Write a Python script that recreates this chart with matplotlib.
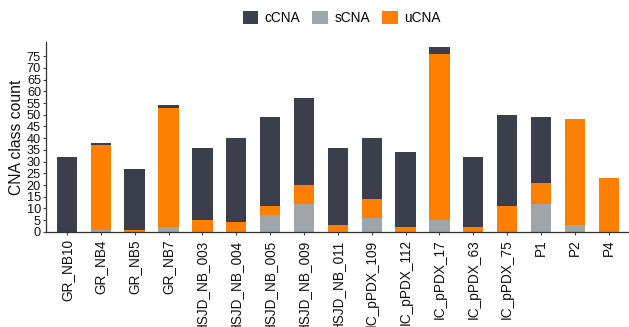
import matplotlib.pyplot as plt
import numpy as np

samples = ['GR_NB10', 'GR_NB4', 'GR_NB5', 'GR_NB7', 'HSJD_NB_003', 'HSJD_NB_004',
           'HSJD_NB_005', 'HSJD_NB_009', 'HSJD_NB_011', 'IC_pPDX_109', 'IC_pPDX_112',
           'IC_pPDX_17', 'IC_pPDX_63', 'IC_pPDX_75', 'P1', 'P2', 'P4']
sCNA = [0, 1, 0, 2, 0, 0, 7, 12, 0, 6, 0, 5, 0, 0, 12, 3, 0]
uCNA = [0, 36, 1, 51, 5, 4, 4, 8, 3, 8, 2, 71, 2, 11, 9, 45, 23]
cCNA = [32, 1, 26, 1, 31, 36, 38, 37, 33, 26, 32, 3, 30, 39, 28, 0, 0]

colors = {'cCNA': '#3b3e4b', 'sCNA': '#a0a5a9', 'uCNA': '#ff7f00'}

plt.rcParams['font.family'] = ['Liberation Sans', 'DejaVu Sans']

fig = plt.figure(figsize=(6.29, 3.27), dpi=100)
ax = fig.add_axes([0.073, 0.291, 0.925, 0.58])

x = np.arange(len(samples))
s = np.array(sCNA)
u = np.array(uCNA)
c = np.array(cCNA)
w = 0.6
ax.bar(x, s, w, color=colors['sCNA'], label='sCNA')
ax.bar(x, u, w, bottom=s, color=colors['uCNA'], label='uCNA')
ax.bar(x, c, w, bottom=s + u, color=colors['cCNA'], label='cCNA')

ax.set_xlim(-0.62, len(samples) - 0.44)
ax.set_ylim(0, 81)
ax.set_yticks(np.arange(0, 80, 5))
ax.set_xticks(x)
ax.set_xticklabels(samples, rotation=90, fontsize=9.8)
ax.tick_params(axis='y', labelsize=9.2, length=2.5, width=0.8, pad=1,
               color='#444444', labelcolor='#111111')
ax.tick_params(axis='x', length=2.5, width=0.8, pad=3,
               color='#444444', labelcolor='#111111')
ax.set_ylabel('CNA class count', fontsize=11.3, labelpad=2, color='#111111')

for side in ['top', 'right']:
    ax.spines[side].set_visible(False)
for side in ['left', 'bottom']:
    ax.spines[side].set_color('#333333')
    ax.spines[side].set_linewidth(0.9)

handles, labels = ax.get_legend_handles_labels()
order = [2, 0, 1]
fig.legend([handles[i] for i in order], [labels[i] for i in order],
           loc='center', bbox_to_anchor=(0.543, 0.945), ncol=3, frameon=False,
           fontsize=9.8, handlelength=1.15, handleheight=1.15, handletextpad=0.45,
           columnspacing=0.9)

fig.savefig('out.png', dpi=100)
